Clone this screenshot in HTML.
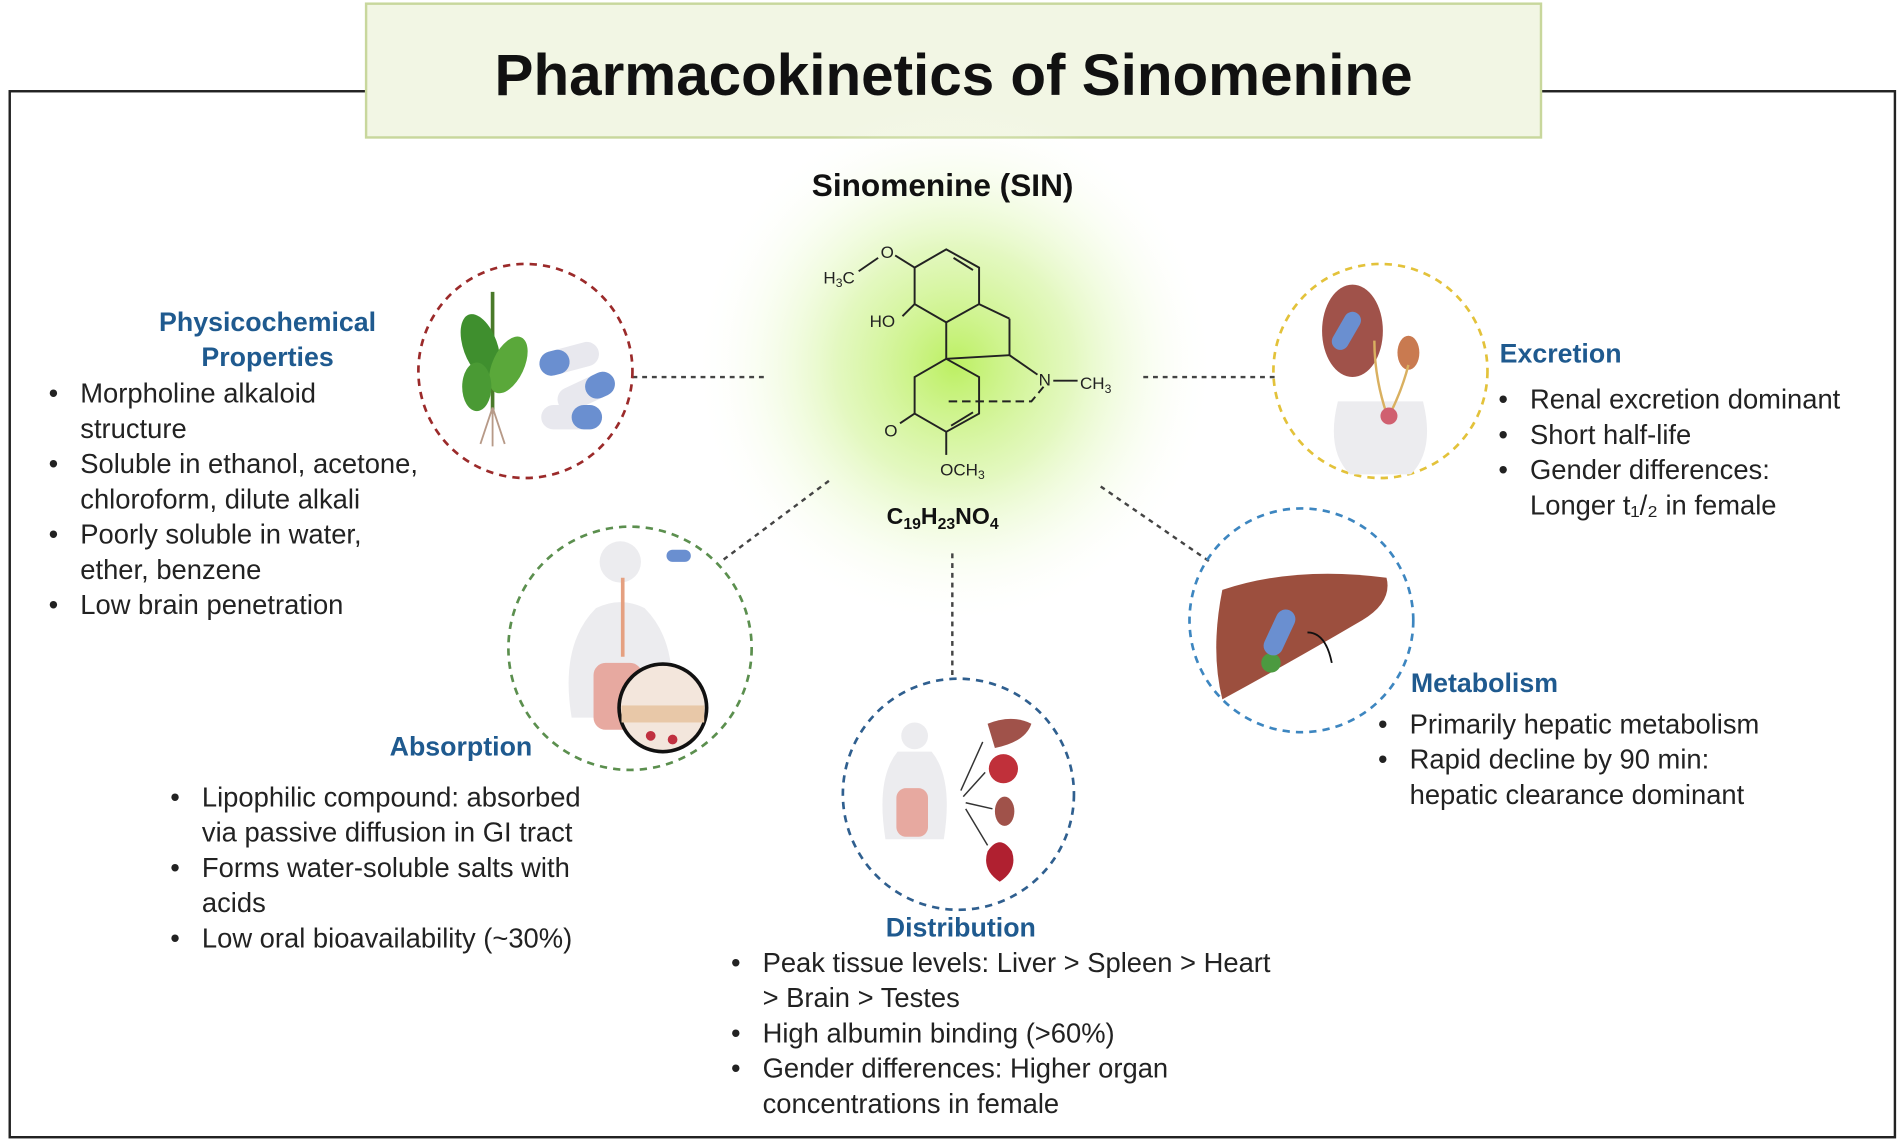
<!DOCTYPE html>
<html><head><meta charset="utf-8"><style>
html,body{margin:0;padding:0;background:#fff}
svg{display:block}
text{font-family:"Liberation Sans",sans-serif}
.b{font-size:22.5px;fill:#222}
.h{font-size:22px;font-weight:bold;fill:#1f5a8f}
</style></head><body>
<svg width="1901" height="1146" viewBox="0 0 1563 942.2" xmlns="http://www.w3.org/2000/svg">
<defs>
<radialGradient id="g" cx="0.5" cy="0.5" r="0.5">
<stop offset="0" stop-color="#b9ef5a" stop-opacity="0.95"/>
<stop offset="0.45" stop-color="#d7f5a4" stop-opacity="0.7"/>
<stop offset="1" stop-color="#ffffff" stop-opacity="0"/>
</radialGradient>
</defs>
<rect x="0" y="0" width="1563" height="942.2" fill="#fff"/>
<rect x="8" y="75" width="1550" height="860" fill="none" stroke="#222" stroke-width="2"/>
<rect x="301" y="3" width="966" height="110" fill="#f2f6e4" stroke="#c8d79c" stroke-width="2"/>
<text x="784" y="78" text-anchor="middle" font-size="48" font-weight="bold" fill="#111">Pharmacokinetics of Sinomenine</text>

<circle cx="785" cy="300" r="215" fill="url(#g)"/>
<text x="775" y="161" text-anchor="middle" font-size="26" font-weight="bold" fill="#111">Sinomenine (SIN)</text>

<g stroke="#222" stroke-width="1.6" fill="none">
<polygon points="778,205 805,220 805,250 778,265 752,250 752,220"/>
<line x1="784" y1="212" x2="800" y2="222"/>
<line x1="752" y1="220" x2="736" y2="210"/>
<line x1="722" y1="212" x2="706" y2="223"/>
<line x1="752" y1="250" x2="742" y2="260"/>
<line x1="778" y1="265" x2="778" y2="295"/>
<line x1="805" y1="250" x2="830" y2="262"/>
<line x1="830" y1="262" x2="830" y2="292"/>
<line x1="830" y1="292" x2="853" y2="308"/>
<polyline points="778,295 752,310 752,340 778,355 805,340 805,310 778,295"/>
<line x1="782" y1="350" x2="800" y2="339"/>
<line x1="752" y1="340" x2="740" y2="348"/>
<line x1="778" y1="355" x2="778" y2="374"/>
<line x1="778" y1="295" x2="830" y2="292"/>
<line x1="866" y1="313" x2="886" y2="313"/>
<polyline points="780,330 848,330 858,318" stroke-dasharray="7,4"/>
</g>
<g font-size="14" fill="#222">
<text x="724" y="212">O</text>
<text x="677" y="233">H<tspan font-size="10" dy="3">3</tspan><tspan dy="-3">C</tspan></text>
<text x="715" y="269">HO</text>
<text x="854" y="317">N</text>
<text x="888" y="320">CH<tspan font-size="10" dy="3">3</tspan></text>
<text x="727" y="359">O</text>
<text x="773" y="391">OCH<tspan font-size="10" dy="3">3</tspan></text>
</g>
<text x="729" y="431" font-size="19" font-weight="bold" fill="#111">C<tspan font-size="13" dy="4">19</tspan><tspan dy="-4">H</tspan><tspan font-size="13" dy="4">23</tspan><tspan dy="-4">NO</tspan><tspan font-size="13" dy="4">4</tspan></text>

<g stroke="#444" stroke-width="2" stroke-dasharray="4,4" fill="none">
<line x1="520" y1="310" x2="630" y2="310"/>
<line x1="940" y1="310" x2="1048" y2="310"/>
<line x1="595" y1="460" x2="682" y2="395"/>
<line x1="783" y1="455" x2="783" y2="558"/>
<line x1="905" y1="400" x2="995" y2="462"/>
</g>

<g fill="none" stroke-width="2.2" stroke-dasharray="6,5">
<circle cx="432" cy="305" r="88" stroke="#9b2a2a"/>
<circle cx="1135" cy="305" r="88" stroke="#e3c23a"/>
<circle cx="518" cy="533" r="100" stroke="#5b8f4e"/>
<circle cx="788" cy="653" r="95" stroke="#2f5f8f"/>
<circle cx="1070" cy="510" r="92" stroke="#3d86c0"/>
</g>

<g>
<line x1="405" y1="240" x2="405" y2="340" stroke="#4a7a2a" stroke-width="3"/>
<ellipse cx="395" cy="285" rx="14" ry="28" fill="#3f8f2e" transform="rotate(-20 395 285)"/>
<ellipse cx="418" cy="300" rx="13" ry="25" fill="#5aa83a" transform="rotate(25 418 300)"/>
<ellipse cx="392" cy="318" rx="12" ry="20" fill="#4a9a34"/>
<path d="M405 335 l-10 30 M405 335 l0 32 M405 335 l10 30" stroke="#b79a88" stroke-width="1.5"/>
<g transform="rotate(-15 468 295)"><rect x="443" y="285" width="50" height="20" rx="10" fill="#e8e8ee"/><rect x="443" y="285" width="25" height="20" rx="10" fill="#6a8fd0"/></g>
<g transform="rotate(-25 482 322)"><rect x="457" y="312" width="50" height="20" rx="10" fill="#e8e8ee"/><rect x="482" y="312" width="25" height="20" rx="10" fill="#6a8fd0"/></g>
<rect x="445" y="333" width="50" height="20" rx="10" fill="#e8e8ee"/><rect x="470" y="333" width="25" height="20" rx="10" fill="#6a8fd0"/>
</g>

<g>
<path d="M1100 330 q-10 40 10 60 h50 q20 -20 10 -60 z" fill="#ececef"/>
<ellipse cx="1112" cy="272" rx="25" ry="38" fill="#a0524a"/>
<rect x="1100" y="255" width="14" height="34" rx="7" fill="#6a8fd0" transform="rotate(30 1107 272)"/>
<ellipse cx="1158" cy="290" rx="9" ry="14" fill="#c97a50"/>
<path d="M1130 280 q0 30 10 60 M1158 300 q-5 20 -15 40" stroke="#d9b060" stroke-width="2" fill="none"/>
<circle cx="1142" cy="342" r="7" fill="#d06070"/>
</g>

<g>
<path d="M470 590 q-10 -60 20 -90 q20 -10 40 0 q30 30 20 90 z" fill="#ececef"/>
<circle cx="510" cy="462" r="17" fill="#ececef"/>
<line x1="512" y1="475" x2="512" y2="540" stroke="#e5a080" stroke-width="3"/>
<rect x="488" y="545" width="40" height="55" rx="10" fill="#e7a9a0"/>
<rect x="548" y="452" width="20" height="10" rx="5" fill="#6a8fd0"/>
<circle cx="545" cy="582" r="36" fill="#f3e6dc" stroke="#111" stroke-width="3"/>
<rect x="511" y="580" width="68" height="14" fill="#e8c8a8"/>
<circle cx="535" cy="605" r="4" fill="#c03040"/><circle cx="553" cy="608" r="4" fill="#c03040"/>
</g>

<g>
<circle cx="752" cy="605" r="11" fill="#ececef"/>
<path d="M728 690 q-8 -50 10 -72 h28 q18 22 10 72 z" fill="#ececef"/>
<rect x="737" y="648" width="26" height="40" rx="8" fill="#e7a9a0"/>
<path d="M812 595 q20 -8 36 0 q-5 15 -30 20 z" fill="#a0524a"/>
<circle cx="825" cy="632" r="12" fill="#c0303a"/>
<ellipse cx="826" cy="667" rx="8" ry="12" fill="#a0524a"/>
<path d="M812 700 q10 -15 20 0 q5 15 -10 25 q-15 -10 -10 -25z" fill="#b02030"/>
<g stroke="#333" stroke-width="1.2"><line x1="790" y1="650" x2="808" y2="610"/><line x1="792" y1="655" x2="810" y2="635"/><line x1="794" y1="660" x2="816" y2="665"/><line x1="794" y1="665" x2="812" y2="695"/></g>
</g>

<g>
<path d="M1005 485 q60 -20 135 -10 q5 20 -20 35 q-60 35 -115 65 q-10 -40 0 -90z" fill="#9c4f3e"/>
<circle cx="1045" cy="545" r="8" fill="#4c9a40"/>
<rect x="1044" y="500" width="16" height="40" rx="8" fill="#6a8fd0" transform="rotate(25 1052 520)"/>
<path d="M1075 520 q15 0 20 25" stroke="#111" stroke-width="1.5" fill="none"/>
</g>

<text class="h" x="220" y="272" text-anchor="middle">Physicochemical</text>
<text class="h" x="220" y="301" text-anchor="middle">Properties</text>
<g class="b">
<text x="40" y="331">•</text><text x="66" y="331">Morpholine alkaloid</text>
<text x="66" y="360">structure</text>
<text x="40" y="389">•</text><text x="66" y="389">Soluble in ethanol, acetone,</text>
<text x="66" y="418">chloroform, dilute alkali</text>
<text x="40" y="447">•</text><text x="66" y="447">Poorly soluble in water,</text>
<text x="66" y="476">ether, benzene</text>
<text x="40" y="505">•</text><text x="66" y="505">Low brain penetration</text>
</g>

<text class="h" x="1233" y="298">Excretion</text>
<g class="b">
<text x="1232" y="336">•</text><text x="1258" y="336">Renal excretion dominant</text>
<text x="1232" y="365">•</text><text x="1258" y="365">Short half-life</text>
<text x="1232" y="394">•</text><text x="1258" y="394">Gender differences:</text>
<text x="1258" y="423">Longer t₁/₂ in female</text>
</g>

<text class="h" x="379" y="621" text-anchor="middle">Absorption</text>
<g class="b">
<text x="140" y="663">•</text><text x="166" y="663">Lipophilic compound: absorbed</text>
<text x="166" y="692">via passive diffusion in GI tract</text>
<text x="140" y="721">•</text><text x="166" y="721">Forms water-soluble salts with</text>
<text x="166" y="750">acids</text>
<text x="140" y="779">•</text><text x="166" y="779">Low oral bioavailability (~30%)</text>
</g>

<text class="h" x="790" y="770" text-anchor="middle">Distribution</text>
<g class="b">
<text x="601" y="799">•</text><text x="627" y="799">Peak tissue levels: Liver &gt; Spleen &gt; Heart</text>
<text x="627" y="828">&gt; Brain &gt; Testes</text>
<text x="601" y="857">•</text><text x="627" y="857">High albumin binding (&gt;60%)</text>
<text x="601" y="886">•</text><text x="627" y="886">Gender differences: Higher organ</text>
<text x="627" y="915">concentrations in female</text>
</g>

<text class="h" x="1160" y="569">Metabolism</text>
<g class="b">
<text x="1133" y="603">•</text><text x="1159" y="603">Primarily hepatic metabolism</text>
<text x="1133" y="632">•</text><text x="1159" y="632">Rapid decline by 90 min:</text>
<text x="1159" y="661">hepatic clearance dominant</text>
</g>
</svg>
</body></html>
